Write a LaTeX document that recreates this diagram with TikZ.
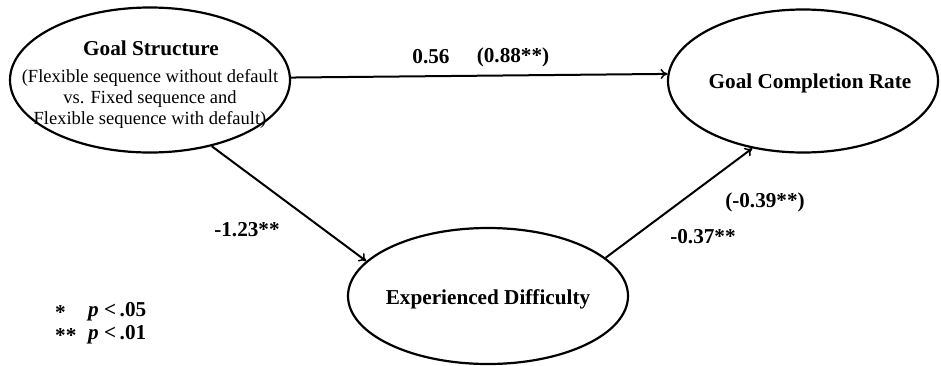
\documentclass[tikz,border=0pt]{standalone}
\usepackage{fontspec}
\setmainfont{Liberation Serif}
\usetikzlibrary{shapes.geometric,arrows.meta}
\tikzset{
  var/.style={draw=black, ellipse, line width=2.2pt, inner sep=0pt},
  arr/.style={draw=black, line width=2pt, -{To[length=7pt,width=10pt,line width=1.5pt]}},
  big/.style={font=\bfseries\fontsize{21.2}{24}\selectfont, inner sep=0pt},
  sub/.style={font=\fontsize{18.5}{21}\selectfont, align=center, inner sep=0pt},
  lbl/.style={font=\bfseries\fontsize{21.2}{24}\selectfont, inner sep=0pt}
}
\begin{document}
\begin{tikzpicture}[x=1pt,y=-1pt]
\useasboundingbox (0,0) rectangle (941,365);
\node[var, minimum width=280pt, minimum height=145pt] (gs) at (150,80) {};
\node[var, minimum width=270pt, minimum height=143pt] (gcr) at (803,81) {};
\node[var, minimum width=280pt, minimum height=136pt] (ed) at (488,296) {};
\node[big] (gstitle) at (151,48) {Goal Structure};
\node[sub] (gssub) at (150,99) {(Flexible sequence without default\\vs. Fixed sequence and\\Flexible sequence with default)};
\node[big] (gcrtext) at (810,83) {Goal Completion Rate};
\node[big] (edtext) at (488,299) {Experienced Difficulty};
\draw[arr] (gs.1.6) -- (gcr.177.9);
\draw[arr] (gs.-47) -- (ed.164.7);
\draw[arr] (ed.18) -- (gcr.233);
\node[lbl] (l1a) at (431,57) {0.56};
\node[lbl] (l1b) at (513,57) {(0.88**)};
\node[lbl] (l2) at (247,230) {-1.23**};
\node[lbl] (l3a) at (765,202) {(-0.39**)};
\node[lbl] (l3b) at (703,237) {-0.37**};
\node[lbl, anchor=west] (s1) at (55,312) {*};
\node[lbl, anchor=west] (p1) at (88,312) {\itshape p\normalfont\bfseries\ {<\,.05}};
\node[lbl, anchor=west] (s2) at (55,335) {**};
\node[lbl, anchor=west] (p2) at (88,335) {\itshape p\normalfont\bfseries\ {<\,.01}};
\end{tikzpicture}
\end{document}
